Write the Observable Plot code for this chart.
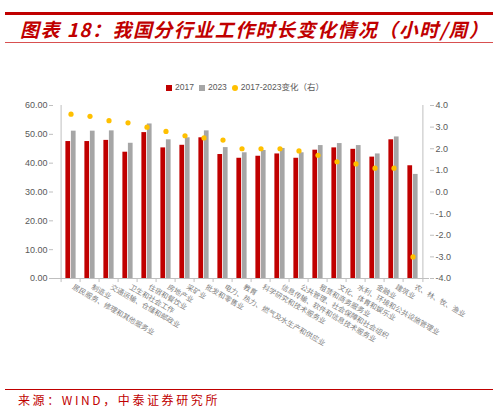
<!DOCTYPE html>
<html><head><meta charset="utf-8">
<script src="https://cdn.jsdelivr.net/npm/d3@7"></script>
<script src="https://cdn.jsdelivr.net/npm/@observablehq/plot@0.6"></script>
<style>
body{margin:0;background:#fff;}
#wrap{position:relative;width:498px;height:412px;overflow:hidden;font-family:"Noto Sans CJK SC","Liberation Sans",sans-serif;}
#wrap svg{position:absolute;left:0;top:0;}
.topline{position:absolute;left:5px;width:488px;top:12px;height:2.5px;background:#c00000;}
.subline{position:absolute;left:5px;width:488px;top:42px;height:1px;background:#d85050;}
.title{position:absolute;left:20px;top:16px;font-size:19px;font-weight:bold;font-style:italic;color:#c00000;letter-spacing:1.45px;white-space:nowrap;line-height:26px;}
.legend{position:absolute;top:81px;left:166px;font-size:8.5px;color:#595959;white-space:nowrap;line-height:12px;font-family:"Liberation Sans","Noto Sans CJK SC",sans-serif;}
.legend span.sw{display:inline-block;width:6px;height:6px;margin-right:3px;vertical-align:-0.5px;}
.legend span.it{margin-right:5px;}
.botline{position:absolute;left:5px;width:488px;top:389px;height:1px;background:#c00000;}
.source{position:absolute;left:18px;top:392px;font-size:12px;color:#c00000;white-space:nowrap;line-height:16px;letter-spacing:2.6px;}
</style></head>
<body><div id="wrap"></div>
<script>
const categories = ["居民服务、修理和其他服务业","制造业","交通运输、仓储和邮政业","卫生和社会工作","住宿和餐饮业","房地产业","采矿业","批发和零售业","电力、热力、燃气及水生产和供应业","教育","科学研究和技术服务业","信息传输、软件和信息技术服务业","公共管理、社会保障和社会组织","租赁和商务服务业","文化、体育和娱乐业","水利、环境和公共设施管理业","金融业","建筑业","农、林、牧、渔业"];
const hours2017 = [47.5,47.5,47.9,43.8,50.6,45.3,46.2,48.8,43.0,41.7,42.4,43.2,41.7,44.5,45.3,44.8,42.1,48.1,39.1];
const hours2023 = [51.1,51.1,51.2,46.9,53.6,48.1,48.8,51.2,45.4,43.6,44.4,45.1,43.6,46.1,46.8,46.1,43.2,49.1,36.1];
const change = [3.6,3.5,3.3,3.2,3.0,2.8,2.6,2.5,2.4,2.0,2.0,2.0,1.9,1.7,1.4,1.3,1.1,1.1,-3.0];
const leftTicks = [0,10,20,30,40,50,60];
const rightTicks = [-4,-3,-2,-1,0,1,2,3,4];

const rows = categories.map((c,i)=>({c, a:hours2017[i], b:hours2023[i], d:change[i]}));
const W=498,H=412, mL=53, mR=69, mT=105, mB=134;
const bw=(W-mL-mR)/categories.length;
const half=bw/2, barW=5.5;
const axisGray="#bfbfbf", textGray="#595959";

const wrap=document.getElementById("wrap");
wrap.innerHTML = `<div class="topline"></div><div class="title">图表 18：我国分行业工作时长变化情况（小时/周）</div><div class="subline"></div>
<div class="legend"><span class="sw" style="background:#c00000"></span><span class="it">2017</span><span class="sw" style="background:#a6a6a6"></span><span class="it">2023</span><span class="sw" style="background:#ffc000;border-radius:50%"></span><span>2017-2023变化（右）</span></div>
<div class="botline"></div><div class="source">来源：WIND，中泰证券研究所</div>`;

const main = Plot.plot({
  width:W, height:H, marginLeft:mL, marginRight:mR, marginTop:mT, marginBottom:mB,
  style:{background:"transparent", fontFamily:"'Noto Sans CJK SC','Liberation Sans',sans-serif"},
  x:{type:"band", domain:categories, padding:0, axis:null},
  y:{domain:[0,60], axis:null},
  marks:[
    Plot.barY(rows,{x:"c", y:"a", fill:"#c00000", insetLeft:half-barW, insetRight:half}),
    Plot.barY(rows,{x:"c", y:"b", fill:"#a6a6a6", insetLeft:half, insetRight:half-barW}),
    Plot.ruleY([0],{stroke:axisGray}),
    Plot.ruleX([categories[0]],{x:d=>d, dx:-half, y1:0, y2:60, stroke:axisGray}),
    Plot.ruleX([categories[categories.length-1]],{x:d=>d, dx:half, y1:0, y2:60, stroke:axisGray}),
    Plot.ruleX(categories,{x:d=>d, dx:-half, y1:0, y2:-1.4, stroke:axisGray}),
    Plot.ruleX([categories[categories.length-1]],{x:d=>d, dx:half, y1:0, y2:-1.4, stroke:axisGray}),
    Plot.axisY(leftTicks,{anchor:"left", label:null, tickSize:4, tickPadding:2, stroke:axisGray, fill:textGray, fontSize:9, fontFamily:"Liberation Sans", tickFormat:d=>d.toFixed(2)}),
    Plot.text(rows,{x:"c", y:0, text:"c", dx:2, dy:8, rotate:30, textAnchor:"start", fontSize:7.2, fill:"#7f7f7f", letterSpacing:0.6})
  ]
});
wrap.appendChild(main);

const right = Plot.plot({
  width:W, height:H, marginLeft:mL, marginRight:mR, marginTop:mT, marginBottom:mB,
  style:{background:"transparent"},
  x:{type:"band", domain:categories, padding:0, axis:null},
  y:{domain:[-4,4], axis:null},
  marks:[
    Plot.axisY(rightTicks,{anchor:"right", label:null, tickSize:4, tickPadding:2, stroke:axisGray, fill:textGray, fontSize:9, fontFamily:"Liberation Sans", tickFormat:d=>d.toFixed(1)}),
    Plot.dot(rows,{x:"c", y:"d", r:2.6, fill:"#ffc000"})
  ]
});
wrap.appendChild(right);
</script></body></html>
